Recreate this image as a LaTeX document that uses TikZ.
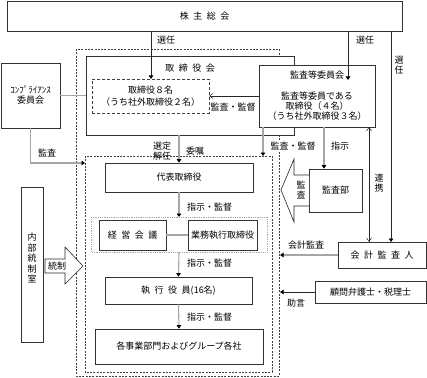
\documentclass[tikz,border=0pt]{standalone}
\usepackage{fontspec}
\setmainfont{Noto Sans CJK JP}
\usetikzlibrary{arrows.meta}
\newcommand{\gsp}{\hspace{4.5pt}}
\begin{document}
\begin{tikzpicture}[x=1pt,y=-1pt,
  every node/.style={font=\fontsize{9}{10}\selectfont, inner sep=0pt, align=center},
  box/.style={draw=black!80, line width=0.7pt, fill=white},
  lbl/.style={},
  gl/.style={draw=black!35, line width=1.1pt},
  dl/.style={draw=black!85, line width=0.6pt},
  tip/.style={-{Triangle[width=4.5pt,length=3.5pt,color=black]}},
  open/.style={-{Straight Barb[width=5pt,length=3pt,color=black!80,line width=0.6pt]}},
  dashbox/.style={draw=black!75, line width=0.6pt, dash pattern=on 2pt off 1.3pt},
]
\useasboundingbox (0,0) rectangle (427,377);
% frames
\draw[dashbox] (76,49) rectangle (279,376);
\draw[dashbox] (85,156) rectangle (272,372);
% top
\node[box, minimum width=395pt, minimum height=30pt] (kabu) at (204.5,16) {株\gsp 主\gsp 総\gsp 会};
% board
\node[box, minimum width=208pt, minimum height=79pt] (board) at (190,95.5) {};
\node (boardlbl) at (190,68) {取\gsp 締\gsp 役\gsp 会};
\node[draw=black!75, line width=0.6pt, densely dashed, minimum width=117pt, minimum height=34pt] (d8) at (150.5,96) {取締役８名\\[2pt]（うち社外取締役２名）};
% audit committee
\node[box, minimum width=116pt, minimum height=62pt] (acom) at (317,96) {監査等委員会\\[11pt]監査等委員である\\取締役（４名）\\（うち社外取締役３名）};
% compliance
\node[box, minimum width=59pt, minimum height=65pt] (comp) at (30.5,95.5) {ｺﾝﾌﾟﾗｲｱﾝｽ\\委員会};
% executive chain
\node[box, minimum width=148pt, minimum height=29pt] (daihyo) at (179,177.5) {代表取締役};
\draw[draw=black!35, line width=0.8pt, densely dotted] (91,217) rectangle (267,252);
\node[box, minimum width=67pt, minimum height=30pt] (keiei) at (132.5,235) {経\gsp 営\gsp 会\gsp 議};
\node[box, minimum width=69pt, minimum height=30pt] (gyomu) at (222.5,235) {業務執行取締役};
\coordinate (grouptop) at (179,217);
\coordinate (groupbot) at (179,252);
\node[box, minimum width=147pt, minimum height=27pt] (shikko) at (178.5,290.5) {執\gsp 行\gsp 役\gsp 員(16名)};
\node[box, minimum width=168pt, minimum height=35pt] (kaku) at (179,346.5) {各事業部門およびグループ各社};
% left
\node[box, minimum width=22pt, minimum height=155pt] (naibu) at (32,264.5) {};
\node[font=\fontsize{9}{10.5}\selectfont] (naibulbl) at (32,258) {内\\部\\統\\制\\室};
% audit dept
\node[box, minimum width=53pt, minimum height=43pt] (kansabu) at (335.5,190.5) {監査部};
% auditors
\node[box, minimum width=88pt, minimum height=26pt] (kaikei) at (382,255) {会\gsp 計\gsp 監\gsp 査\gsp 人};
\node[box, minimum width=111pt, minimum height=22pt] (komon) at (370.5,292) {顧問弁護士・税理士};
% block arrows
\draw[dl, fill=white, line join=miter] (45,259) -- (65,259) -- (65,247) -- (83,266) -- (65,284) -- (65,273) -- (45,273) -- cycle;
\node (tosei) at (57,266) {統制};
\draw[dl, fill=white, line join=miter] (309,175) -- (294,175) -- (294,159) -- (281,190) -- (294,222) -- (294,206) -- (309,206);
\node (kansav) at (301,190.5) {監\\査};
% coordinates
\coordinate (d8in) at (151,79);
\coordinate (acomin) at (348,80);
\coordinate (senkaku) at (391,242);
\coordinate (renkei) at (369,0);
\coordinate (innertop) at (263,156);
\coordinate (innerleft) at (85,163);
\coordinate (outerright) at (280,0);
\coordinate (shiji) at (324,0);
% connectors
\draw[dl,tip] (kabu.south -| d8in) -- (d8in);
\draw[dl,tip] (kabu.south -| acomin) -- (acomin);
\draw[dl,tip] (kabu.south -| senkaku) -- (senkaku);
\draw[dl,open] (acom.west |- d8.east) -- (d8.east);
\draw[gl] (comp.east) -- (comp.east -| board.west);
\draw[gl,tip] (comp.south) |- (innerleft);
\draw[gl,tip] (board.south -| daihyo) -- (daihyo.north);
\draw[gl,tip] (acom.south -| innertop) -- (innertop);
\draw[gl,tip] (acom.south -| shiji) -- (kansabu.north -| shiji);
\draw[dl,open] (acom.south -| renkei) -- (kaikei.north -| renkei);
\draw[dl,open] (kaikei.north -| renkei) -- (acom.south -| renkei);
\draw[gl,tip] (daihyo.south) -- (grouptop);
\draw[gl] (keiei.east) -- (gyomu.west);
\draw[gl,tip] (groupbot) -- (shikko.north);
\draw[gl,tip] (shikko.south) -- (kaku.north);
\draw[gl,tip] (kaikei.west) -- (kaikei.west -| outerright);
\draw[dl,tip] (komon.west) -- (komon.west -| outerright);
% labels
\node (l1) at (166,40) {選任};
\node (l2) at (365,40) {選任};
\node (l3) at (399,65) {選\\任};
\node (l4) at (233,107) {監査・監督};
\node (l5) at (47,153) {監査};
\node (l6) at (162,151.5) {選定\\解任};
\node (l7) at (195,151) {委嘱};
\node[fill=white, inner sep=1pt] (l8) at (293,146) {監査・監督};
\node (l9) at (340,146) {指示};
\node (l10) at (209.5,207) {指示・監督};
\node (l11) at (209.5,263) {指示・監督};
\node (l12) at (209.5,317) {指示・監督};
\node (l13) at (379,183) {連\\携};
\node (l14) at (306,245) {会計監査};
\node (l15) at (296,303) {助言};
\end{tikzpicture}
\end{document}
